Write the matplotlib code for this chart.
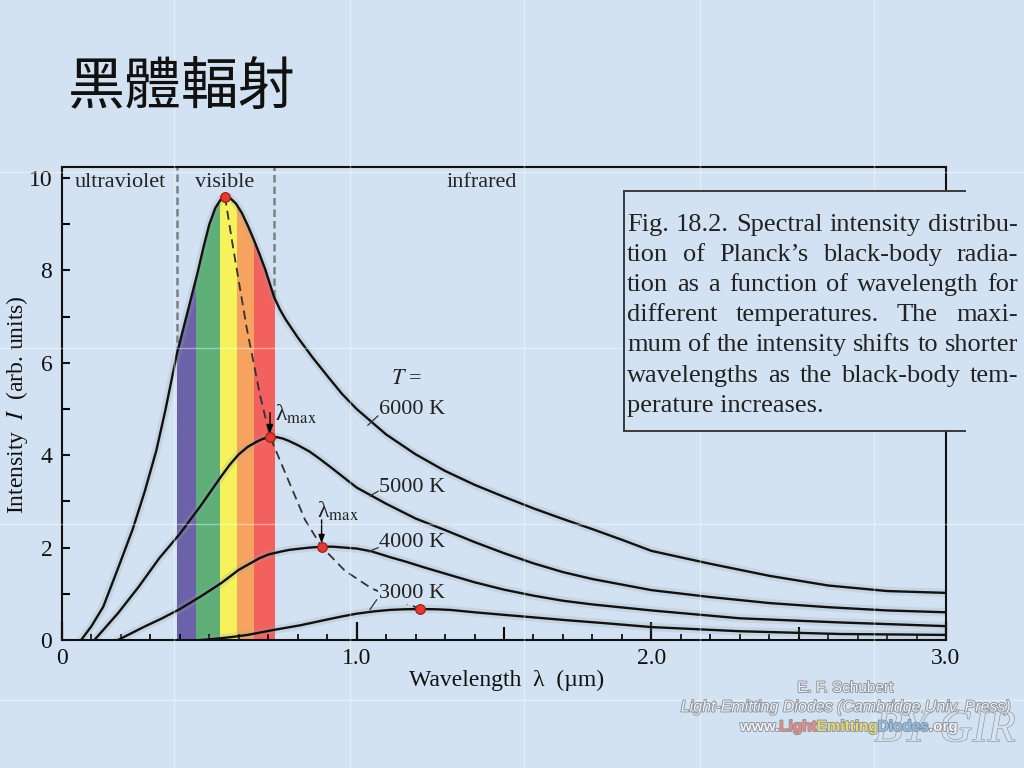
import numpy as np
import matplotlib
matplotlib.use("Agg")
import matplotlib.pyplot as plt
from matplotlib.patches import Rectangle
from matplotlib.ticker import MultipleLocator
import matplotlib.patheffects as pe

plt.rcParams['font.family'] = ['Liberation Serif', 'DejaVu Serif']
plt.rcParams['mathtext.fontset'] = 'stix'

# Curves (wavelength in um, intensity in arb. units)
lam_6000 = [0.065, 0.10, 0.14, 0.19, 0.24, 0.28, 0.32, 0.35, 0.39, 0.41, 0.43, 0.45, 0.46, 0.48,
            0.50, 0.52, 0.54, 0.553, 0.57, 0.59, 0.61, 0.63, 0.65, 0.67, 0.69, 0.705, 0.72,
            0.74, 0.76, 0.80, 0.85, 0.90, 0.95, 1.0, 1.1, 1.2, 1.3, 1.4, 1.5, 1.6, 1.7, 1.8,
            1.9, 2.0, 2.2, 2.4, 2.6, 2.8, 3.0]
int_6000 = [0.0, 0.30, 0.72, 1.55, 2.4, 3.2, 4.1, 4.95, 6.2, 6.7, 7.2, 7.7, 7.95, 8.5,
            9.0, 9.35, 9.55, 9.6, 9.57, 9.45, 9.25, 8.98, 8.68, 8.36, 8.02, 7.72, 7.42,
            7.15, 6.93, 6.55, 6.12, 5.72, 5.33, 5.0, 4.45, 4.02, 3.66, 3.36, 3.1, 2.85, 2.62,
            2.40, 2.17, 1.93, 1.65, 1.39, 1.18, 1.06, 1.02]

lam_5000 = [0.11, 0.19, 0.26, 0.33, 0.40, 0.47, 0.54, 0.57, 0.60, 0.63, 0.66, 0.68, 0.706,
            0.73, 0.75, 0.77, 0.80, 0.84, 0.875, 0.91, 0.95, 1.0, 1.1, 1.2, 1.3, 1.4, 1.5, 1.6,
            1.7, 1.8, 1.9, 2.0, 2.2, 2.4, 2.6, 2.8, 3.0]
int_5000 = [0.0, 0.58, 1.15, 1.77, 2.3, 2.9, 3.54, 3.8, 4.02, 4.18, 4.29, 4.35, 4.40,
            4.39, 4.36, 4.31, 4.22, 4.08, 3.92, 3.75, 3.55, 3.3, 2.95, 2.63, 2.38, 2.12, 1.88,
            1.66, 1.47, 1.32, 1.20, 1.08, 0.93, 0.80, 0.71, 0.64, 0.60]

lam_4000 = [0.19, 0.28, 0.34, 0.40, 0.47, 0.54, 0.60, 0.67, 0.70, 0.74, 0.77, 0.81, 0.84,
            0.881, 0.92, 0.96, 1.0, 1.05, 1.11, 1.17, 1.23, 1.32, 1.4, 1.5, 1.6, 1.7, 1.8, 2.0,
            2.3, 2.64, 3.0]
int_4000 = [0.0, 0.29, 0.47, 0.67, 0.94, 1.23, 1.52, 1.77, 1.85, 1.91, 1.95, 1.98, 2.0,
            2.02, 2.02, 2.0, 1.98, 1.92, 1.80, 1.69, 1.57, 1.40, 1.25, 1.09, 0.96, 0.85, 0.77,
            0.64, 0.47, 0.38, 0.30]

lam_3000 = [0.47, 0.51, 0.57, 0.63, 0.72, 0.81, 0.89, 0.95, 1.0, 1.06, 1.11, 1.16, 1.215,
            1.27, 1.32, 1.40, 1.49, 1.60, 1.71, 1.85, 2.0, 2.3, 2.64, 3.0]
int_3000 = [0.0, 0.02, 0.06, 0.11, 0.22, 0.32, 0.43, 0.51, 0.57, 0.62, 0.65, 0.665, 0.67,
            0.665, 0.65, 0.60, 0.55, 0.49, 0.43, 0.36, 0.28, 0.19, 0.13, 0.11]

temps = ['6000 K', '5000 K', '4000 K', '3000 K']
peak_lam = [0.553, 0.706, 0.881, 1.215]
peak_int = [9.6, 4.40, 2.02, 0.67]

# dashed line through the maxima
locus_lam = [0.553, 0.581, 0.627, 0.672, 0.706, 0.768, 0.825, 0.881, 0.96, 1.05, 1.215]
locus_int = [9.6, 8.48, 6.75, 5.3, 4.4, 3.46, 2.6, 2.02, 1.5, 1.12, 0.67]

# visible spectrum bands
band_edges = [0.39, 0.455, 0.536, 0.594, 0.652, 0.72]
band_colors = ['#6c62a9', '#5eae78', '#f6f25c', '#f6a35f', '#f2615d']

x_ticks = [0, 1, 2, 3]
x_tick_labels = ['0', '1.0', '2.0', '3.0']
y_ticks = [0, 2, 4, 6, 8, 10]

caption_lines = [
    "Fig. 18.2. Spectral intensity distribu-",
    "tion of Planck\u2019s black-body radia-",
    "tion as a function of wavelength for",
    "different temperatures. The maxi-",
    "mum of the intensity shifts to shorter",
    "wavelengths as the black-body tem-",
    "perature increases.",
]

bg = '#d2e2f2'
W, H = 1024, 768
fig = plt.figure(figsize=(W / 100, H / 100), dpi=100, facecolor=bg)

# faint tile seams of the slide background
for sx in [174, 350, 524, 700, 874]:
    fig.add_artist(plt.Line2D([sx / W, sx / W], [0, 1], color='white', lw=1, alpha=0.4))
for sy in [172, 348, 524, 700]:
    fig.add_artist(plt.Line2D([0, 1], [1 - sy / H, 1 - sy / H], color='white', lw=1, alpha=0.4))

fig.text(68 / W, 1 - 89 / H, '黑體輻射', fontsize=41, va='center', ha='left',
         family=['Noto Sans CJK TC', 'DejaVu Sans'], color='#111111')

ax = fig.add_axes([62 / W, 128 / H, 884 / W, 473 / H])
ax.set_facecolor('none')
ax.set_xlim(0, 3)
ax.set_ylim(0, 10.24)

# colour bands under the 6000 K curve
for i, c in enumerate(band_colors):
    poly = ax.fill_between(lam_6000, int_6000, 0, color=c, lw=0, zorder=1)
    clip = Rectangle((band_edges[i], 0), band_edges[i + 1] - band_edges[i], 11,
                     transform=ax.transData)
    poly.set_clip_path(clip)

for xe in [band_edges[0], band_edges[-1]]:
    y0 = np.interp(xe, lam_6000, int_6000)
    ax.plot([xe, xe], [y0, 10.24], color='#7b8087', lw=1.8, dashes=(3, 1.6), zorder=1.5)

curves = [(lam_6000, int_6000), (lam_5000, int_5000), (lam_4000, int_4000), (lam_3000, int_3000)]
for lam, val in curves:
    ax.plot(lam, val, color='#9aa3ab', lw=6, alpha=0.22, zorder=2, solid_capstyle='round')
    ax.plot(lam, val, color='#111111', lw=1.7, zorder=3, solid_joinstyle='round')

ax.plot(locus_lam, locus_int, color='#333333', lw=1.3, dashes=(5, 3), zorder=4)
ax.plot(peak_lam, peak_int, 'o', ms=7, color='#e23a32', mec='#9a1a15', mew=0.8, zorder=5)

# lambda_max markers
for (lx, ly0, ly1, tx, ty) in [(0.706, 4.92, 4.47, 0.722, 4.88), (0.881, 2.6, 2.09, 0.864, 2.78)]:
    ax.annotate('', xy=(lx, ly1), xytext=(lx, ly0),
                arrowprops=dict(arrowstyle='-|>,head_length=0.5,head_width=0.18', color='k',
                                lw=1.0, shrinkA=0, shrinkB=0), zorder=6)
    ax.text(tx, ty, '\u03bb$_{\\rm max}$', fontsize=17, ha='left', va='center', color='#222')

ax.text(1.17, 5.63, r'$T$ =', fontsize=16, ha='center', va='center', color='#222')
label_y = [4.98, 3.31, 2.10, 1.0]
leaders = [((1.072, 4.85), (1.038, 4.65)), ((1.073, 3.22), (1.045, 3.12)),
           ((1.073, 2.0), (1.04, 1.91)), ((1.068, 0.87), (1.045, 0.66))]
for t, yy, (p0, p1) in zip(temps, label_y, leaders):
    lbl = ax.text(1.075, yy, t, fontsize=16, ha='left', va='center', color='#222', zorder=5)
    if t == '3000 K':
        lbl.set_bbox(dict(facecolor=bg, edgecolor='none', pad=0.5))
    ax.plot([p0[0], p1[0]], [p0[1], p1[1]], color='#333', lw=0.9, zorder=3)

ax.text(0.044, 9.91, 'ultraviolet', fontsize=16, ha='left', va='center', color='#222')
ax.text(0.553, 9.91, 'visible', fontsize=16, ha='center', va='center', color='#222')
ax.text(1.425, 9.91, 'infrared', fontsize=16, ha='center', va='center', color='#222')

# axes and ticks
for s in ax.spines.values():
    s.set_linewidth(1.5)
    s.set_color('#111111')
ax.set_xticks(x_ticks)
ax.set_xticklabels(x_tick_labels)
ax.xaxis.set_minor_locator(MultipleLocator(0.1))
ax.set_yticks(y_ticks)
ax.yaxis.set_minor_locator(MultipleLocator(1))
ax.tick_params(axis='x', which='major', direction='in', length=13, width=1.6, labelsize=17,
               pad=6, colors='#111', top=False)
ax.tick_params(axis='x', which='minor', direction='in', length=4.3, width=1.2, top=False)
ax.tick_params(axis='y', which='both', direction='in', length=5.5, width=1.5, right=False)
ax.tick_params(axis='y', which='major', labelsize=17, pad=7, colors='#111')

half = ax.secondary_xaxis('bottom')
half.set_xticks([0.5, 1.5, 2.5])
half.tick_params(direction='in', length=9.4, width=1.5, labelbottom=False)
half.spines['bottom'].set_visible(False)

ax.set_xlabel('Wavelength  \u03bb  (\u00b5m)', fontsize=17, color='#111')
ax.xaxis.label.set_verticalalignment('center')
ax.xaxis.set_label_coords(0.503, -0.0846)
ax.set_ylabel('Intensity  $I$  (arb. units)', fontsize=17, color='#111')
ax.yaxis.label.set_verticalalignment('center')
ax.yaxis.set_label_coords(-0.051, 0.497)

# caption box on the right
fig.add_artist(Rectangle((624 / W, 1 - 431 / H), 1 - 624 / W, 240 / H, transform=fig.transFigure,
                         facecolor=bg, edgecolor='none', zorder=5))
for seg in [([624, 965], [191, 191]), ([624, 965], [431, 431]), ([624, 624], [191, 431])]:
    fig.add_artist(plt.Line2D([v / W for v in seg[0]], [1 - v / H for v in seg[1]],
                              color='#3a3a3a', lw=1.4, zorder=6))

renderer = fig.canvas.get_renderer()
left_px, right_px = 627, 1018
for i, line in enumerate(caption_lines):
    yb = 1 - (231 + 30.1 * i) / H
    if i == len(caption_lines) - 1:
        fig.text(left_px / W, yb, line, fontsize=19, va='baseline', color='#222', zorder=7)
        continue
    words = line.split(' ')
    texts = [fig.text(0, yb, w, fontsize=19, va='baseline', color='#222', zorder=7) for w in words]
    widths = [t.get_window_extent(renderer).width for t in texts]
    gap = (right_px - left_px - sum(widths)) / (len(words) - 1)
    x = left_px
    for t, w in zip(texts, widths):
        t.set_x(x / W)
        x += w + gap

# watermark and credits in the lower right corner
fig.text(945 / W, 1 - 730 / H, 'BY GIR', fontsize=33, ha='center', va='center',
         family='Liberation Serif', style='italic', color='#d8e4f0', alpha=0.9,
         path_effects=[pe.withStroke(linewidth=0.9, foreground='#8a9098')])
outline = [pe.withStroke(linewidth=1.3, foreground='#8c9299')]
fig.text(845 / W, 1 - 688 / H, 'E. F. Schubert', fontsize=11, ha='center', va='center',
         family='Liberation Sans', color='#eef2f6', path_effects=outline)
fig.text(846 / W, 1 - 707 / H, 'Light-Emitting Diodes (Cambridge Univ. Press)', fontsize=11.5,
         ha='center', va='center', family='Liberation Sans', style='italic', color='#eef2f6',
         path_effects=outline)
www_parts = [('www.', '#eef2f6'), ('Light', '#f08a80'), ('Emitting', '#e8d870'),
             ('Diodes', '#8cc0e8'), ('.org', '#eef2f6')]
x = 740
for part, col in www_parts:
    t = fig.text(x / W, 1 - 727 / H, part, fontsize=11, ha='left', va='center',
                 family='Liberation Sans', weight='bold', color=col, path_effects=outline)
    x += t.get_window_extent(renderer).width

fig.savefig('out.png', dpi=100, facecolor=bg)
